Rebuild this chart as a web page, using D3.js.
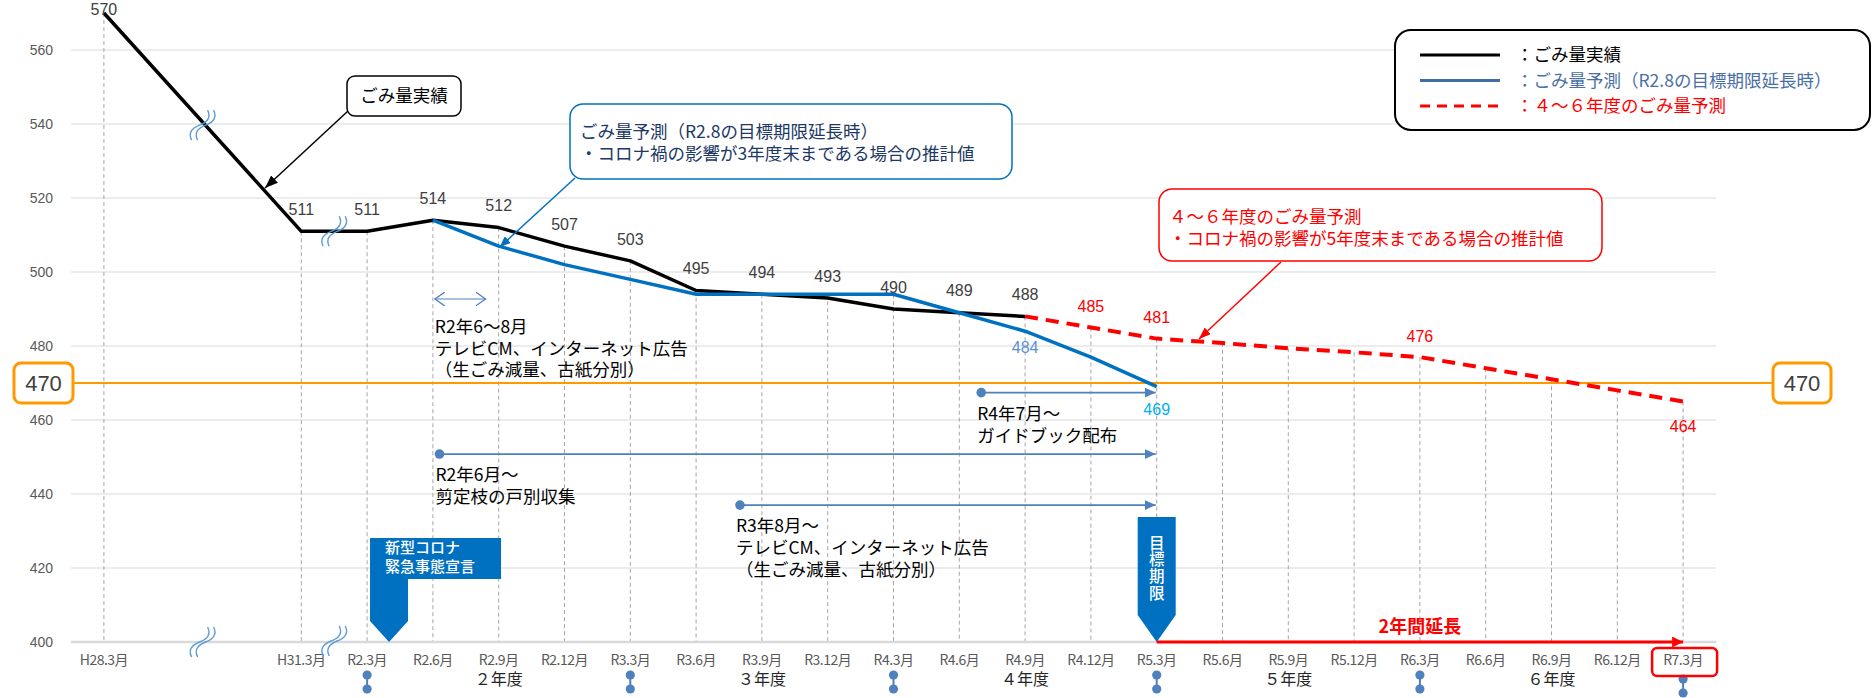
<!DOCTYPE html>
<html><head><meta charset="utf-8">
<script src="https://cdn.jsdelivr.net/npm/d3@7"></script>
<style>body{margin:0;background:#fff;}svg{display:block;}</style>
</head><body>
<svg id="c" width="1876" height="698"></svg>
<script>
// ---------- data ----------
const categories = ["H28.3月","_1","_2","H31.3月","R2.3月","R2.6月","R2.9月","R2.12月","R3.3月","R3.6月","R3.9月","R3.12月","R4.3月","R4.6月","R4.9月","R4.12月","R5.3月","R5.6月","R5.9月","R5.12月","R6.3月","R6.6月","R6.9月","R6.12月","R7.3月"];
const yTicks = [400,420,440,460,480,500,520,540,560];

const actualCats = ["H28.3月","H31.3月","R2.3月","R2.6月","R2.9月","R2.12月","R3.3月","R3.6月","R3.9月","R3.12月","R4.3月","R4.6月","R4.9月"];
const actualValues = [570,511,511,514,512,507,503,495,494,493,490,489,488];

const forecastCats = ["R2.6月","R2.9月","R2.12月","R3.3月","R3.6月","R3.9月","R3.12月","R4.3月","R4.6月","R4.9月","R4.12月","R5.3月"];
const forecastValues = [514,507,502,498,494,494,494,494,489,484,477,469];
const forecastLabels = ["","","","","","","","","","484","","469"];

const newCats = ["R4.9月","R4.12月","R5.3月","R5.6月","R5.9月","R5.12月","R6.3月","R6.6月","R6.9月","R6.12月","R7.3月"];
const newValues = [488,485,482,480.8,479.4,478.3,477,474,471,468,465];
const newLabels = ["","485","481","","","","476","","","","464"];

const targetValue = 470;
const fyCats = ["R2.9月","R3.9月","R4.9月","R5.9月","R6.9月"];
const fyLabels = ["２年度","３年度","４年度","５年度","６年度"];
const fyBoundaryCats = ["R2.3月","R3.3月","R4.3月","R5.3月","R6.3月","R7.3月"];

const legendLabels = ["：ごみ量実績","：ごみ量予測（R2.8の目標期限延長時）","：４～６年度のごみ量予測"];

// event arrows (start position in category-index units, end = R5.3月)
const eventStarts = [13 + 1/3, 5.1, 9 + 2/3];
const eventTexts = [["R4年7月～","ガイドブック配布"],["R2年6月～","剪定枝の戸別収集"],["R3年8月～","テレビCM、インターネット広告","（生ごみ減量、古紙分別）"]];

// ---------- setup ----------
const FN = "'Liberation Sans', Arial, sans-serif";
const FJ = "'Noto Sans CJK JP', 'Noto Sans', sans-serif";
const svg = d3.select("#c");
const x = d3.scaleBand().domain(categories).range([71, 1716]);
const cx = c => x(c) + x.bandwidth() / 2;
const xi = d3.scaleLinear().domain([0, categories.length - 1]).range([cx(categories[0]), cx(categories[categories.length - 1])]);
const y = d3.scaleLinear().domain([400, 560]).range([642, 50]);
const left = 71, right = 1716;

const defs = svg.append("defs");
function tri(id, color, w, h) {
  defs.append("marker").attr("id", id).attr("markerUnits", "userSpaceOnUse")
    .attr("markerWidth", w).attr("markerHeight", h).attr("viewBox", `0 0 ${w} ${h}`)
    .attr("refX", w).attr("refY", h / 2).attr("orient", "auto")
    .append("path").attr("d", `M0,0L${w},${h/2}L0,${h}Z`).attr("fill", color);
}
tri("aBlack", "#000", 13, 10);
tri("aBlue", "#0070c0", 11, 9);
tri("aRed", "#ff0000", 12, 9);
tri("aSteel", "#4f81bd", 11, 10);
tri("aRed2", "#ff0000", 11, 11);
defs.append("marker").attr("id", "chev").attr("markerUnits", "userSpaceOnUse")
  .attr("markerWidth", 12).attr("markerHeight", 14).attr("viewBox", "0 0 12 14")
  .attr("refX", 10).attr("refY", 7).attr("orient", "auto-start-reverse")
  .append("path").attr("d", "M0,0L10,7L0,14").attr("fill", "none").attr("stroke", "#4f81bd").attr("stroke-width", 1.3);

// ---------- grid ----------
svg.append("g").selectAll("line").data(yTicks.filter(d => d > 400)).join("line")
  .attr("x1", left).attr("x2", right).attr("y1", d => y(d)).attr("y2", d => y(d))
  .attr("stroke", "#d9d9d9").attr("stroke-width", 1);

// drop lines
const allPts = {};
[[actualCats, actualValues], [forecastCats, forecastValues], [newCats, newValues]].forEach(([cs, vs]) => {
  cs.forEach((c, i) => { allPts[c] = Math.max(allPts[c] ?? -Infinity, vs[i]); });
});
svg.append("g").selectAll("line").data(Object.entries(allPts)).join("line")
  .attr("x1", d => cx(d[0])).attr("x2", d => cx(d[0]))
  .attr("y1", d => y(d[1])).attr("y2", y(400))
  .attr("stroke", "#a6a6a6").attr("stroke-width", 1).attr("stroke-dasharray", "4,3");

// x axis baseline
svg.append("line").attr("x1", left).attr("x2", right).attr("y1", y(400)).attr("y2", y(400))
  .attr("stroke", "#d9d9d9").attr("stroke-width", 2.5);

// y axis
const ya = svg.append("g").attr("transform", `translate(${left},0)`)
  .call(d3.axisLeft(y).tickValues(yTicks).tickSize(0).tickPadding(18));
ya.select(".domain").remove();
ya.selectAll("text").attr("font-family", FN).attr("font-size", 14).attr("fill", "#595959");

// x axis
const xa = svg.append("g").attr("transform", `translate(0,${y(400)})`)
  .call(d3.axisBottom(x).tickSize(0).tickPadding(13).tickFormat(d => d.startsWith("_") ? "" : d));
xa.select(".domain").remove();
xa.selectAll("text").attr("font-family", FJ).attr("font-size", 14).attr("fill", "#595959").attr("letter-spacing", -0.5);

// fiscal year labels
svg.append("g").selectAll("text").data(fyCats).join("text")
  .attr("x", d => cx(d)).attr("y", 679).attr("dy", "0.35em").attr("text-anchor", "middle")
  .attr("font-family", FJ).attr("font-size", 16).attr("fill", "#262626")
  .text((d, i) => fyLabels[i]);

// year boundary dots
const yb = svg.append("g");
fyBoundaryCats.forEach((c, i) => {
  const off = i === fyBoundaryCats.length - 1 ? 4 : 0;
  yb.append("line").attr("x1", cx(c)).attr("x2", cx(c)).attr("y1", 675 + off).attr("y2", 689 + off)
    .attr("stroke", "#4f81bd").attr("stroke-width", 2);
  [675, 689].forEach(yy => yb.append("circle").attr("cx", cx(c)).attr("cy", yy + off).attr("r", 4.6).attr("fill", "#4f81bd"));
});
// R7.3 highlight box
svg.append("rect").attr("x", cx("R7.3月") - 31).attr("y", 648).attr("width", 65).attr("height", 28).attr("rx", 5)
  .attr("fill", "none").attr("stroke", "#ff0000").attr("stroke-width", 2.5);

// ---------- target line ----------
svg.append("line").attr("x1", 73).attr("x2", 1773).attr("y1", y(targetValue)).attr("y2", y(targetValue))
  .attr("stroke", "#ff9900").attr("stroke-width", 2);
[[14, 59], [1773, 58]].forEach(([bx, bw]) => {
  svg.append("rect").attr("x", bx).attr("y", y(targetValue) - 20).attr("width", bw).attr("height", 40).attr("rx", 7)
    .attr("fill", "#fff").attr("stroke", "#ff9900").attr("stroke-width", 3);
  svg.append("text").attr("x", bx + bw / 2).attr("y", y(targetValue)).attr("dy", "0.36em").attr("text-anchor", "middle")
    .attr("font-family", "'Liberation Sans Narrow', " + FN).attr("font-size", 22).attr("fill", "#404040").text(targetValue);
});

// ---------- series ----------
const line = d3.line().x(d => cx(d.c)).y(d => y(d.v));
const zip = (cs, vs) => cs.map((c, i) => ({ c, v: vs[i] }));

svg.append("path").datum(zip(newCats, newValues)).attr("d", line)
  .attr("fill", "none").attr("stroke", "#ff0000").attr("stroke-width", 4).attr("stroke-dasharray", "13,8");
svg.append("path").datum(zip(actualCats, actualValues)).attr("d", line)
  .attr("fill", "none").attr("stroke", "#000").attr("stroke-width", 3.5).attr("stroke-linejoin", "round");
svg.append("path").datum(zip(forecastCats, forecastValues)).attr("d", line)
  .attr("fill", "none").attr("stroke", "#0070c0").attr("stroke-width", 3.5).attr("stroke-linejoin", "round");

// data labels
svg.append("g").selectAll("text").data(zip(actualCats, actualValues)).join("text")
  .attr("x", d => cx(d.c)).attr("y", d => Math.max(y(d.v) - 22, 9)).attr("dy", "0.36em").attr("text-anchor", "middle")
  .attr("font-family", FN).attr("font-size", 16).attr("fill", "#404040").text(d => d.v);
svg.append("g").selectAll("text").data(zip(forecastCats, forecastValues).filter((d, i) => forecastLabels[i]))
  .join("text")
  .attr("x", d => cx(d.c)).attr("y", (d, i) => y(d.v) + (i === 0 ? 16 : 23)).attr("dy", "0.36em").attr("text-anchor", "middle")
  .attr("font-family", FN).attr("font-size", 16).attr("fill", (d, i) => i === 0 ? "#5b8fd3" : "#00b0f0")
  .text(d => forecastLabels[forecastCats.indexOf(d.c)]);
svg.append("g").selectAll("text").data(zip(newCats, newValues).filter((d, i) => newLabels[i])).join("text")
  .attr("x", d => cx(d.c)).attr("y", d => d.c === "R7.3月" ? y(d.v) + 25 : y(d.v) - 21).attr("dy", "0.36em").attr("text-anchor", "middle")
  .attr("font-family", FN).attr("font-size", 16).attr("fill", "#ff0000")
  .text(d => newLabels[newCats.indexOf(d.c)]);

// ---------- break marks ----------
function brk(px, py) {
  [0, 6].forEach(o => {
    const X = px + o - 3;
    svg.append("path").attr("d", `M${X + 8},${py - 15} Q${X + 13},${py - 5} ${X},${py} Q${X - 13},${py + 5} ${X - 8},${py + 15}`)
      .attr("fill", "none").attr("stroke", "#5b9bd5").attr("stroke-width", 1.4);
  });
}
const lineAt = (idx, i0, i1, v0, v1) => y(v0 + (v1 - v0) * (idx - i0) / (i1 - i0));
brk(xi(1.5), lineAt(1.5, 0, 3, actualValues[0], actualValues[1]) + 3);
brk(xi(3.5), y(actualValues[1]));
brk(xi(1.5), y(400));
brk(xi(3.5), y(400) - 1);

// ---------- callouts ----------
function textLines(g, lines, x0, y0, dy, opts) {
  const t = g.append("text").attr("font-family", FJ).attr("font-size", opts.size).attr("fill", opts.fill)
    .attr("text-anchor", opts.anchor || "start").attr("font-weight", opts.weight || 400);
  lines.forEach((s, i) => t.append("tspan").attr("x", x0).attr("y", y0 + i * dy).attr("dy", "0.36em").text(s));
  return t;
}
const ann = svg.append("g");
// ごみ量実績
ann.append("line").attr("x1", 348).attr("y1", 111).attr("x2", 265).attr("y2", 188)
  .attr("stroke", "#000").attr("stroke-width", 1.5).attr("marker-end", "url(#aBlack)");
ann.append("rect").attr("x", 347).attr("y", 76).attr("width", 114).attr("height", 40).attr("rx", 8)
  .attr("fill", "#fff").attr("stroke", "#000").attr("stroke-width", 1.5);
textLines(ann, ["ごみ量実績"], 404, 96, 0, { size: 17.5, fill: "#000", anchor: "middle" });
// blue callout
ann.append("line").attr("x1", 575).attr("y1", 178).attr("x2", cx("R2.9月") + 1).attr("y2", y(507) + 1)
  .attr("stroke", "#0070c0").attr("stroke-width", 1.5).attr("marker-end", "url(#aBlue)");
ann.append("rect").attr("x", 570).attr("y", 104).attr("width", 442).attr("height", 75).attr("rx", 13)
  .attr("fill", "#fff").attr("stroke", "#0070c0").attr("stroke-width", 1.5);
textLines(ann, ["ごみ量予測（R2.8の目標期限延長時）", "・コロナ禍の影響が3年度末まである場合の推計値"], 580, 131.5, 22.5, { size: 17.5, fill: "#203864" });
// red callout
ann.append("line").attr("x1", 1281).attr("y1", 262).attr("x2", 1199).attr("y2", 339)
  .attr("stroke", "#ff0000").attr("stroke-width", 1.5).attr("marker-end", "url(#aRed)");
ann.append("rect").attr("x", 1159).attr("y", 189).attr("width", 443).attr("height", 72).attr("rx", 13)
  .attr("fill", "#fff").attr("stroke", "#ff0000").attr("stroke-width", 1.5);
textLines(ann, ["４～６年度のごみ量予測", "・コロナ禍の影響が5年度末まである場合の推計値"], 1169, 216.5, 22.5, { size: 17.5, fill: "#ff0000" });

// ---------- legend ----------
const lg = svg.append("g");
lg.append("rect").attr("x", 1395).attr("y", 30).attr("width", 475).attr("height", 100).attr("rx", 16)
  .attr("fill", "#fff").attr("stroke", "#000").attr("stroke-width", 2);
const lgStyles = [{ c: "#000", t: "#000", dash: null }, { c: "#3f6ea5", t: "#4a6fa5", dash: null }, { c: "#ff0000", t: "#ff0000", dash: "10,7" }];
legendLabels.forEach((t, i) => {
  const yy = 55 + i * 25.5;
  lg.append("line").attr("x1", 1420).attr("x2", 1500).attr("y1", yy).attr("y2", yy)
    .attr("stroke", lgStyles[i].c).attr("stroke-width", 3).attr("stroke-dasharray", lgStyles[i].dash);
  lg.append("text").attr("x", 1516).attr("y", yy).attr("dy", "0.36em").attr("font-family", FJ).attr("font-size", 17.5)
    .attr("fill", lgStyles[i].t).text(t);
});

// ---------- event arrows ----------
const evY = [y(467.4), y(450.8), y(437)];
const ev = svg.append("g");
eventStarts.forEach((s, i) => {
  const x0 = xi(s), x1 = cx("R5.3月") - 1;
  ev.append("line").attr("x1", x0).attr("x2", x1).attr("y1", evY[i]).attr("y2", evY[i])
    .attr("stroke", "#4f81bd").attr("stroke-width", 1.8).attr("marker-end", "url(#aSteel)");
  ev.append("circle").attr("cx", x0).attr("cy", evY[i]).attr("r", 4.8).attr("fill", "#4f81bd");
  textLines(ev, eventTexts[i], x0 - 4, evY[i] + 21, 21.7, { size: 17.5, fill: "#000" });
});
// R2年6～8月 double arrow
ev.append("line").attr("x1", xi(5.03)).attr("x2", xi(5.8)).attr("y1", 299).attr("y2", 299)
  .attr("stroke", "#4f81bd").attr("stroke-width", 1.2).attr("marker-start", "url(#chev)").attr("marker-end", "url(#chev)");
textLines(ev, ["R2年6～8月", "テレビCM、インターネット広告", "（生ごみ減量、古紙分別）"], xi(5.03), 326.7, 21.7, { size: 17.5, fill: "#000" });

// ---------- markers at bottom ----------
const mk = svg.append("g");
const tipC = xi(4 + 1/3), base = y(400);
mk.append("path").attr("d", `M${tipC - 19},538 H${tipC + 112} V579 H${tipC + 19} V621 L${tipC},${base} L${tipC - 19},621 Z`).attr("fill", "#0070c0");
textLines(mk, ["新型コロナ", "緊急事態宣言"], tipC - 4, 547.5, 19.5, { size: 15, fill: "#fff", weight: 500 });
const tipG = cx("R5.3月");
mk.append("path").attr("d", `M${tipG - 19},517 H${tipG + 19} V615 L${tipG},${base} L${tipG - 19},615 Z`).attr("fill", "#0070c0");
mk.append("text").attr("x", tipG).attr("y", 535).attr("writing-mode", "vertical-rl")
  .attr("font-family", FJ).attr("font-size", 15.5).attr("letter-spacing", 1.2).attr("fill", "#fff").attr("font-weight", 500)
  .text("目標期限");
// 2年間延長
mk.append("line").attr("x1", tipG).attr("x2", cx("R7.3月")).attr("y1", base).attr("y2", base)
  .attr("stroke", "#ff0000").attr("stroke-width", 3).attr("marker-end", "url(#aRed2)");
textLines(mk, ["2年間延長"], cx("R6.3月"), 627, 0, { size: 18, fill: "#ff0000", anchor: "middle", weight: 700 });
</script>
</body></html>
